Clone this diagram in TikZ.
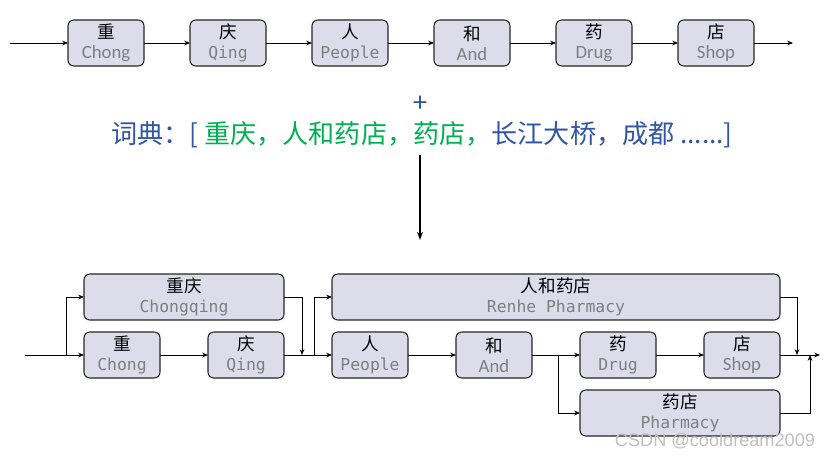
\documentclass[tikz,border=0pt]{standalone}
\usepackage{fontspec}
\setmainfont{Carlito}
\setmonofont{DejaVu Sans Mono}
\newfontfamily\cjk{Noto Sans CJK SC}
\newfontfamily\wmfont{Liberation Sans}
\usepackage{tikz}
\usetikzlibrary{arrows.meta, positioning}
\usepackage{xcolor}

\definecolor{boxfill}{HTML}{DDDCEB}
\definecolor{engray}{HTML}{7F7F7F}
\definecolor{dictblue}{HTML}{2F55A4}
\definecolor{dictgreen}{HTML}{00B050}

\newcommand{\zh}[1]{{\cjk\fontsize{15}{17}\selectfont #1}}
\newcommand{\ensans}[1]{{\color{engray}\fontsize{16}{17}\selectfont #1}}
\newcommand{\enmono}[1]{{\color{engray}\ttfamily\fontsize{14}{17}\selectfont #1}}

\begin{document}
\begin{tikzpicture}[>=Stealth]
  \tikzset{
    wordbox/.style={draw=black!85, line width=0.9pt, rounded corners=5pt,
      fill=boxfill, minimum width=2.28cm, minimum height=1.38cm,
      inner sep=1pt, outer sep=0pt, align=center, font=\fontsize{14}{17}\selectfont},
    flow/.style={-{Stealth[length=5pt,width=4pt]}, line width=0.7pt}
  }
  \useasboundingbox (0,0) rectangle (24.9,-13.71);

  % character sequence
  \node[wordbox]                   (t1) at (3.18,-1.29) {\zh{重}\\\ensans{Chong}};
  \node[wordbox, right=1.38cm of t1] (t2) {\zh{庆}\\\enmono{Qing}};
  \node[wordbox, right=1.38cm of t2] (t3) {\zh{人}\\\enmono{People}};
  \node[wordbox, right=1.38cm of t3] (t4) {\zh{和}\\\ensans{And}};
  \node[wordbox, right=1.38cm of t4] (t5) {\zh{药}\\\ensans{Drug}};
  \node[wordbox, right=1.38cm of t5] (t6) {\zh{店}\\\ensans{Shop}};
  \coordinate (tin)  at (0.3,-1.29);
  \coordinate (tout) at (23.79,-1.29);

  \draw[flow] (tin) -- (t1);
  \foreach \a/\b in {t1/t2, t2/t3, t3/t4, t4/t5, t5/t6}
    \draw[flow] (\a) -- (\b);
  \draw[flow] (t6) -- (tout);

  % dictionary
  \node[text=dictblue, font=\fontsize{24}{24}\selectfont] (plus) at (12.6,-3.1) {+};
  \node[text=dictblue, font=\cjk\fontsize{22.3}{26}\selectfont] (dict) at (12.66,-4.05)
    {词典：[ {\color{dictgreen}重庆，人和药店，药店，}长江大桥，成都 ......]};
  \coordinate (dictfoot) at (12.6,-4.65);
  \coordinate (lattop)   at (12.6,-7.2);
  \draw[-{Stealth[length=7pt,width=5pt]}, line width=1.3pt] (dictfoot) -- (lattop);

  % word lattice
  \node[wordbox]                   (b1) at (3.66,-10.65) {\zh{重}\\\enmono{Chong}};
  \node[wordbox, right=1.44cm of b1] (b2) {\zh{庆}\\\enmono{Qing}};
  \node[wordbox, right=1.44cm of b2] (b3) {\zh{人}\\\enmono{People}};
  \node[wordbox, right=1.44cm of b3] (b4) {\zh{和}\\\ensans{And}};
  \node[wordbox, right=1.44cm of b4] (b5) {\zh{药}\\\enmono{Drug}};
  \node[wordbox, right=1.44cm of b5] (b6) {\zh{店}\\\ensans{Shop}};
  \node[wordbox, minimum width=6cm, anchor=south west] (cq)
    at ([yshift=0.36cm]b1.north west) {\zh{重庆}\\\enmono{Chongqing}};
  \node[wordbox, minimum width=13.44cm, anchor=south west] (rh)
    at ([yshift=0.36cm]b3.north west) {\zh{人和药店}\\\enmono{Renhe Pharmacy}};
  \node[wordbox, minimum width=6cm, anchor=north west] (ph)
    at ([yshift=-0.36cm]b5.south west) {\zh{药店}\\\enmono{Pharmacy}};

  \coordinate (bin)    at (0.75,-10.65);
  \coordinate (split1) at (1.98,-10.65);
  \coordinate (join1)  at (9.06,-10.65);
  \coordinate (split2) at (9.42,-10.65);
  \coordinate (split3) at (16.74,-10.65);
  \coordinate (join2)  at (23.91,-10.65);
  \coordinate (join3)  at (24.3,-10.65);
  \coordinate (bout)   at (24.6,-10.65);

  \draw[line width=0.7pt] (bin) -- (split1);
  \draw[flow] (split1) -- (b1);
  \draw[flow] (split1) |- (cq);
  \draw[flow] (b1) -- (b2);
  \draw[flow] (b2) -- (b3);
  \draw[flow] (cq.east) -| (join1);
  \draw[flow] (split2) |- (rh);
  \draw[flow] (b3) -- (b4);
  \draw[flow] (b4) -- (b5);
  \draw[flow] (split3) |- (ph);
  \draw[flow] (b5) -- (b6);
  \draw[flow] (b6) -- (bout);
  \draw[flow] (rh.east) -| (join2);
  \draw[flow] (ph.east) -| (join3);

  \node[text=black!25, font=\wmfont\fontsize{15.5}{16}\selectfont] (mark) at (21.45,-13.23) {CSDN @cooldream2009};
\end{tikzpicture}
\end{document}
